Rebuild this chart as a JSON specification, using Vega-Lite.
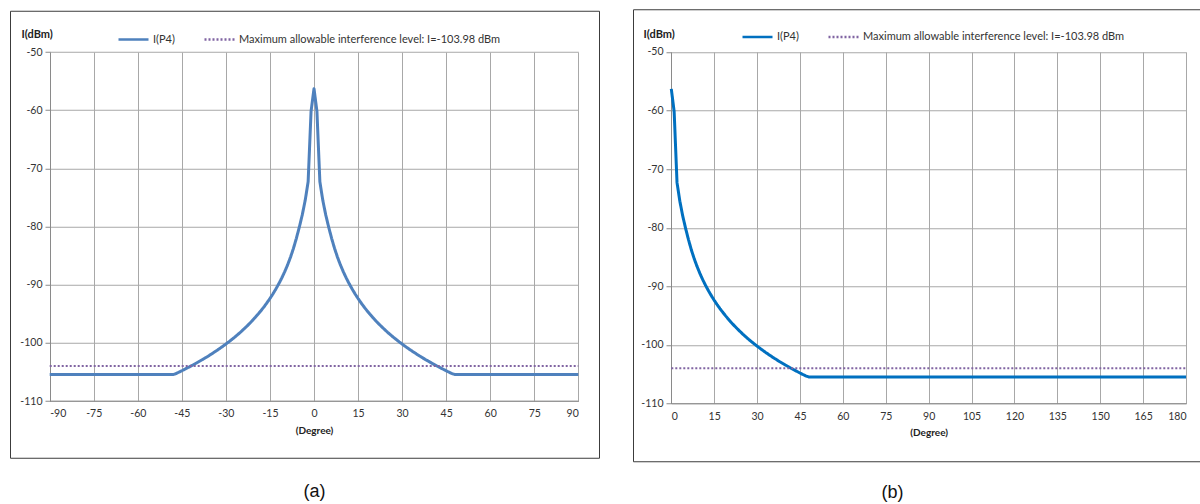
{
  "$schema": "https://vega.github.io/schema/vega-lite/v6.json",
  "padding": {"left": 9, "top": 8, "right": 0, "bottom": 0},
  "background": "white",
  "config": {
    "font": "Lato",
    "axis": {"labelFont": "Lato", "titleFont": "Lato", "labelFontSize": 10.5, "labelColor": "#333333", "titleColor": "#222222", "domainColor": "#8a8a8a", "tickColor": "#8a8a8a", "gridColor": "#a8a8a8", "gridOpacity": 1, "labelExpr": "'' + datum.value"},
    "legend": {"labelFont": "Lato", "labelFontSize": 11, "labelColor": "#333333", "labelLimit": 600}
  },
  "datasets": {
    "a": [
      {"deg": -90, "dbm": -105.45, "s": "I(P4)"},
      {"deg": -48, "dbm": -105.45, "s": "I(P4)"},
      {"deg": -47, "dbm": -105.28, "s": "I(P4)"},
      {"deg": -46, "dbm": -105.04, "s": "I(P4)"},
      {"deg": -45, "dbm": -104.79, "s": "I(P4)"},
      {"deg": -44, "dbm": -104.53, "s": "I(P4)"},
      {"deg": -43, "dbm": -104.27, "s": "I(P4)"},
      {"deg": -42, "dbm": -104.01, "s": "I(P4)"},
      {"deg": -41, "dbm": -103.74, "s": "I(P4)"},
      {"deg": -40, "dbm": -103.46, "s": "I(P4)"},
      {"deg": -39, "dbm": -103.17, "s": "I(P4)"},
      {"deg": -38, "dbm": -102.88, "s": "I(P4)"},
      {"deg": -37, "dbm": -102.57, "s": "I(P4)"},
      {"deg": -36, "dbm": -102.27, "s": "I(P4)"},
      {"deg": -35, "dbm": -101.94, "s": "I(P4)"},
      {"deg": -34, "dbm": -101.61, "s": "I(P4)"},
      {"deg": -33, "dbm": -101.28, "s": "I(P4)"},
      {"deg": -32, "dbm": -100.93, "s": "I(P4)"},
      {"deg": -31, "dbm": -100.57, "s": "I(P4)"},
      {"deg": -30, "dbm": -100.2, "s": "I(P4)"},
      {"deg": -29, "dbm": -99.82, "s": "I(P4)"},
      {"deg": -28, "dbm": -99.42, "s": "I(P4)"},
      {"deg": -27, "dbm": -99.02, "s": "I(P4)"},
      {"deg": -26, "dbm": -98.59, "s": "I(P4)"},
      {"deg": -25, "dbm": -98.15, "s": "I(P4)"},
      {"deg": -24, "dbm": -97.68, "s": "I(P4)"},
      {"deg": -23, "dbm": -97.2, "s": "I(P4)"},
      {"deg": -22, "dbm": -96.7, "s": "I(P4)"},
      {"deg": -21, "dbm": -96.18, "s": "I(P4)"},
      {"deg": -20, "dbm": -95.62, "s": "I(P4)"},
      {"deg": -19, "dbm": -95.04, "s": "I(P4)"},
      {"deg": -18, "dbm": -94.43, "s": "I(P4)"},
      {"deg": -17, "dbm": -93.79, "s": "I(P4)"},
      {"deg": -16, "dbm": -93.1, "s": "I(P4)"},
      {"deg": -15, "dbm": -92.37, "s": "I(P4)"},
      {"deg": -14, "dbm": -91.59, "s": "I(P4)"},
      {"deg": -13, "dbm": -90.75, "s": "I(P4)"},
      {"deg": -12, "dbm": -89.85, "s": "I(P4)"},
      {"deg": -11, "dbm": -88.87, "s": "I(P4)"},
      {"deg": -10, "dbm": -87.79, "s": "I(P4)"},
      {"deg": -9, "dbm": -86.6, "s": "I(P4)"},
      {"deg": -8, "dbm": -85.27, "s": "I(P4)"},
      {"deg": -7, "dbm": -83.76, "s": "I(P4)"},
      {"deg": -6, "dbm": -82.02, "s": "I(P4)"},
      {"deg": -5, "dbm": -80.1, "s": "I(P4)"},
      {"deg": -4, "dbm": -78.0, "s": "I(P4)"},
      {"deg": -3, "dbm": -75.5, "s": "I(P4)"},
      {"deg": -2, "dbm": -72.3, "s": "I(P4)"},
      {"deg": -1, "dbm": -60.2, "s": "I(P4)"},
      {"deg": 0, "dbm": -56.3, "s": "I(P4)"},
      {"deg": 1, "dbm": -60.2, "s": "I(P4)"},
      {"deg": 2, "dbm": -72.3, "s": "I(P4)"},
      {"deg": 3, "dbm": -75.5, "s": "I(P4)"},
      {"deg": 4, "dbm": -78.0, "s": "I(P4)"},
      {"deg": 5, "dbm": -80.1, "s": "I(P4)"},
      {"deg": 6, "dbm": -82.02, "s": "I(P4)"},
      {"deg": 7, "dbm": -83.76, "s": "I(P4)"},
      {"deg": 8, "dbm": -85.27, "s": "I(P4)"},
      {"deg": 9, "dbm": -86.6, "s": "I(P4)"},
      {"deg": 10, "dbm": -87.79, "s": "I(P4)"},
      {"deg": 11, "dbm": -88.87, "s": "I(P4)"},
      {"deg": 12, "dbm": -89.85, "s": "I(P4)"},
      {"deg": 13, "dbm": -90.75, "s": "I(P4)"},
      {"deg": 14, "dbm": -91.59, "s": "I(P4)"},
      {"deg": 15, "dbm": -92.37, "s": "I(P4)"},
      {"deg": 16, "dbm": -93.1, "s": "I(P4)"},
      {"deg": 17, "dbm": -93.79, "s": "I(P4)"},
      {"deg": 18, "dbm": -94.43, "s": "I(P4)"},
      {"deg": 19, "dbm": -95.04, "s": "I(P4)"},
      {"deg": 20, "dbm": -95.62, "s": "I(P4)"},
      {"deg": 21, "dbm": -96.18, "s": "I(P4)"},
      {"deg": 22, "dbm": -96.7, "s": "I(P4)"},
      {"deg": 23, "dbm": -97.2, "s": "I(P4)"},
      {"deg": 24, "dbm": -97.68, "s": "I(P4)"},
      {"deg": 25, "dbm": -98.15, "s": "I(P4)"},
      {"deg": 26, "dbm": -98.59, "s": "I(P4)"},
      {"deg": 27, "dbm": -99.02, "s": "I(P4)"},
      {"deg": 28, "dbm": -99.42, "s": "I(P4)"},
      {"deg": 29, "dbm": -99.82, "s": "I(P4)"},
      {"deg": 30, "dbm": -100.2, "s": "I(P4)"},
      {"deg": 31, "dbm": -100.57, "s": "I(P4)"},
      {"deg": 32, "dbm": -100.93, "s": "I(P4)"},
      {"deg": 33, "dbm": -101.28, "s": "I(P4)"},
      {"deg": 34, "dbm": -101.61, "s": "I(P4)"},
      {"deg": 35, "dbm": -101.94, "s": "I(P4)"},
      {"deg": 36, "dbm": -102.27, "s": "I(P4)"},
      {"deg": 37, "dbm": -102.57, "s": "I(P4)"},
      {"deg": 38, "dbm": -102.88, "s": "I(P4)"},
      {"deg": 39, "dbm": -103.17, "s": "I(P4)"},
      {"deg": 40, "dbm": -103.46, "s": "I(P4)"},
      {"deg": 41, "dbm": -103.74, "s": "I(P4)"},
      {"deg": 42, "dbm": -104.01, "s": "I(P4)"},
      {"deg": 43, "dbm": -104.27, "s": "I(P4)"},
      {"deg": 44, "dbm": -104.53, "s": "I(P4)"},
      {"deg": 45, "dbm": -104.79, "s": "I(P4)"},
      {"deg": 46, "dbm": -105.04, "s": "I(P4)"},
      {"deg": 47, "dbm": -105.28, "s": "I(P4)"},
      {"deg": 48, "dbm": -105.45, "s": "I(P4)"},
      {"deg": 90, "dbm": -105.45, "s": "I(P4)"},
      {"deg": -90, "dbm": -103.98, "s": "Maximum allowable interference level: I=-103.98 dBm"},
      {"deg": 90, "dbm": -103.98, "s": "Maximum allowable interference level: I=-103.98 dBm"}
    ],
    "b": [
      {"deg": 0, "dbm": -56.3, "s": "I(P4)"},
      {"deg": 1, "dbm": -60.2, "s": "I(P4)"},
      {"deg": 2, "dbm": -72.3, "s": "I(P4)"},
      {"deg": 3, "dbm": -75.5, "s": "I(P4)"},
      {"deg": 4, "dbm": -78.0, "s": "I(P4)"},
      {"deg": 5, "dbm": -80.1, "s": "I(P4)"},
      {"deg": 6, "dbm": -82.02, "s": "I(P4)"},
      {"deg": 7, "dbm": -83.76, "s": "I(P4)"},
      {"deg": 8, "dbm": -85.27, "s": "I(P4)"},
      {"deg": 9, "dbm": -86.6, "s": "I(P4)"},
      {"deg": 10, "dbm": -87.79, "s": "I(P4)"},
      {"deg": 11, "dbm": -88.87, "s": "I(P4)"},
      {"deg": 12, "dbm": -89.85, "s": "I(P4)"},
      {"deg": 13, "dbm": -90.75, "s": "I(P4)"},
      {"deg": 14, "dbm": -91.59, "s": "I(P4)"},
      {"deg": 15, "dbm": -92.37, "s": "I(P4)"},
      {"deg": 16, "dbm": -93.1, "s": "I(P4)"},
      {"deg": 17, "dbm": -93.79, "s": "I(P4)"},
      {"deg": 18, "dbm": -94.43, "s": "I(P4)"},
      {"deg": 19, "dbm": -95.04, "s": "I(P4)"},
      {"deg": 20, "dbm": -95.62, "s": "I(P4)"},
      {"deg": 21, "dbm": -96.18, "s": "I(P4)"},
      {"deg": 22, "dbm": -96.7, "s": "I(P4)"},
      {"deg": 23, "dbm": -97.2, "s": "I(P4)"},
      {"deg": 24, "dbm": -97.68, "s": "I(P4)"},
      {"deg": 25, "dbm": -98.15, "s": "I(P4)"},
      {"deg": 26, "dbm": -98.59, "s": "I(P4)"},
      {"deg": 27, "dbm": -99.02, "s": "I(P4)"},
      {"deg": 28, "dbm": -99.42, "s": "I(P4)"},
      {"deg": 29, "dbm": -99.82, "s": "I(P4)"},
      {"deg": 30, "dbm": -100.2, "s": "I(P4)"},
      {"deg": 31, "dbm": -100.57, "s": "I(P4)"},
      {"deg": 32, "dbm": -100.93, "s": "I(P4)"},
      {"deg": 33, "dbm": -101.28, "s": "I(P4)"},
      {"deg": 34, "dbm": -101.61, "s": "I(P4)"},
      {"deg": 35, "dbm": -101.94, "s": "I(P4)"},
      {"deg": 36, "dbm": -102.27, "s": "I(P4)"},
      {"deg": 37, "dbm": -102.57, "s": "I(P4)"},
      {"deg": 38, "dbm": -102.88, "s": "I(P4)"},
      {"deg": 39, "dbm": -103.17, "s": "I(P4)"},
      {"deg": 40, "dbm": -103.46, "s": "I(P4)"},
      {"deg": 41, "dbm": -103.74, "s": "I(P4)"},
      {"deg": 42, "dbm": -104.01, "s": "I(P4)"},
      {"deg": 43, "dbm": -104.27, "s": "I(P4)"},
      {"deg": 44, "dbm": -104.53, "s": "I(P4)"},
      {"deg": 45, "dbm": -104.79, "s": "I(P4)"},
      {"deg": 46, "dbm": -105.04, "s": "I(P4)"},
      {"deg": 47, "dbm": -105.28, "s": "I(P4)"},
      {"deg": 48, "dbm": -105.45, "s": "I(P4)"},
      {"deg": 180, "dbm": -105.45, "s": "I(P4)"},
      {"deg": 0, "dbm": -103.98, "s": "Maximum allowable interference level: I=-103.98 dBm"},
      {"deg": 180, "dbm": -103.98, "s": "Maximum allowable interference level: I=-103.98 dBm"}
    ]
  },
  "hconcat": [
    {
      "width": 589,
      "height": 447,
      "view": {"stroke": "#3c3c3c", "strokeWidth": 1},
      "title": {"text": "(a)", "orient": "bottom", "offset": 25, "font": "Liberation Sans", "fontSize": 18, "fontWeight": "normal", "color": "#111111", "dx": 10},
      "data": {"name": "a"},
      "layer": [
        {
          "transform": [{"filter": "datum.s === 'I(P4)'"}],
          "mark": {"type": "line", "strokeWidth": 3, "strokeJoin": "round"},
          "encoding": {
            "x": {"field": "deg", "type": "quantitative",
              "scale": {"domain": [-90, 90], "range": [39.7, 568.3], "nice": false, "zero": false},
              "axis": {"orient": "bottom", "offset": -57, "values": [-90, -75, -60, -45, -30, -15, 0, 15, 30, 45, 60, 75, 90], "grid": false, "ticks": false, "labelPadding": 8, "title": "(Degree)", "titleFontSize": 10, "titleFontWeight": "bold", "titlePadding": 6}},
            "y": {"field": "dbm", "type": "quantitative",
              "scale": {"domain": [-110, -50], "range": [390.3, 41.3], "nice": false, "zero": false},
              "axis": {"orient": "left", "offset": -40, "values": [-110, -100, -90, -80, -70, -60, -50], "grid": true, "tickSize": 5, "labelPadding": 3, "title": "I(dBm)", "titleAngle": 0, "titleAlign": "left", "titleBaseline": "middle", "titleX": -29, "titleY": 24, "titleFontSize": 11, "titleFontWeight": "bold"}},
            "color": {"field": "s", "type": "nominal",
              "scale": {"domain": ["I(P4)", "Maximum allowable interference level: I=-103.98 dBm"], "range": ["#4f81bd", "#8064a2"]},
              "legend": {"orient": "none", "legendX": 107, "legendY": 12, "direction": "horizontal", "title": null, "symbolType": "stroke", "symbolSize": 900, "symbolStrokeWidth": 2.5, "labelOffset": 3, "columnPadding": 24, "labelLimit": 600}},
            "strokeDash": {"field": "s", "type": "nominal",
              "scale": {"domain": ["I(P4)", "Maximum allowable interference level: I=-103.98 dBm"], "range": [[1, 0], [2, 2]]},
              "legend": {"orient": "none", "legendX": 107, "legendY": 12, "direction": "horizontal", "title": null, "symbolType": "stroke", "symbolSize": 900, "symbolStrokeWidth": 2.5, "labelOffset": 3, "columnPadding": 24, "labelLimit": 600}}
          }
        },
        {
          "transform": [{"filter": "datum.s !== 'I(P4)'"}],
          "mark": {"type": "line", "strokeWidth": 2},
          "encoding": {
            "x": {"field": "deg", "type": "quantitative",
              "axis": {"orient": "top", "grid": true, "values": [-90, -75, -60, -45, -30, -15, 0, 15, 30, 45, 60, 75, 90], "labels": false, "ticks": false, "domain": false, "title": null}},
            "y": {"field": "dbm", "type": "quantitative"},
            "color": {"field": "s", "type": "nominal"},
            "strokeDash": {"field": "s", "type": "nominal"}
          }
        }
      ],
      "resolve": {"axis": {"x": "independent"}}
    },
    {
      "width": 575,
      "height": 452,
      "view": {"stroke": "#3c3c3c", "strokeWidth": 1},
      "title": {"text": "(b)", "orient": "bottom", "offset": 23, "font": "Liberation Sans", "fontSize": 18, "fontWeight": "normal", "color": "#111111", "dx": -28},
      "data": {"name": "b"},
      "layer": [
        {
          "transform": [{"filter": "datum.s === 'I(P4)'"}],
          "mark": {"type": "line", "strokeWidth": 3, "strokeJoin": "round"},
          "encoding": {
            "x": {"field": "deg", "type": "quantitative",
              "scale": {"domain": [0, 180], "range": [38.3, 553], "nice": false, "zero": false},
              "axis": {"orient": "bottom", "offset": -58, "values": [0, 15, 30, 45, 60, 75, 90, 105, 120, 135, 150, 165, 180], "grid": false, "ticks": false, "labelPadding": 8, "title": "(Degree)", "titleFontSize": 10, "titleFontWeight": "bold", "titlePadding": 6}},
            "y": {"field": "dbm", "type": "quantitative",
              "scale": {"domain": [-110, -50], "range": [394.3, 42.7], "nice": false, "zero": false},
              "axis": {"orient": "left", "offset": -38, "values": [-110, -100, -90, -80, -70, -60, -50], "grid": true, "tickSize": 5, "labelPadding": 3, "title": "I(dBm)", "titleAngle": 0, "titleAlign": "left", "titleBaseline": "middle", "titleX": -28, "titleY": 25, "titleFontSize": 11, "titleFontWeight": "bold"}},
            "color": {"field": "s", "type": "nominal",
              "scale": {"domain": ["I(P4)", "Maximum allowable interference level: I=-103.98 dBm"], "range": ["#0070c0", "#8064a2"]},
              "legend": {"orient": "none", "legendX": 108, "legendY": 11, "direction": "horizontal", "title": null, "symbolType": "stroke", "symbolSize": 900, "symbolStrokeWidth": 2.5, "labelOffset": 3, "columnPadding": 24, "labelLimit": 600}},
            "strokeDash": {"field": "s", "type": "nominal",
              "scale": {"domain": ["I(P4)", "Maximum allowable interference level: I=-103.98 dBm"], "range": [[1, 0], [2, 2]]},
              "legend": {"orient": "none", "legendX": 108, "legendY": 11, "direction": "horizontal", "title": null, "symbolType": "stroke", "symbolSize": 900, "symbolStrokeWidth": 2.5, "labelOffset": 3, "columnPadding": 24, "labelLimit": 600}}
          }
        },
        {
          "transform": [{"filter": "datum.s !== 'I(P4)'"}],
          "mark": {"type": "line", "strokeWidth": 2},
          "encoding": {
            "x": {"field": "deg", "type": "quantitative",
              "axis": {"orient": "top", "grid": true, "values": [0, 15, 30, 45, 60, 75, 90, 105, 120, 135, 150, 165, 180], "labels": false, "ticks": false, "domain": false, "title": null}},
            "y": {"field": "dbm", "type": "quantitative"},
            "color": {"field": "s", "type": "nominal"},
            "strokeDash": {"field": "s", "type": "nominal"}
          }
        }
      ],
      "resolve": {"axis": {"x": "independent"}}
    }
  ],
  "spacing": 32,
  "center": true,
  "resolve": {"scale": {"x": "independent", "y": "independent", "color": "independent", "strokeDash": "independent"}, "legend": {"color": "independent", "strokeDash": "independent"}}
}
